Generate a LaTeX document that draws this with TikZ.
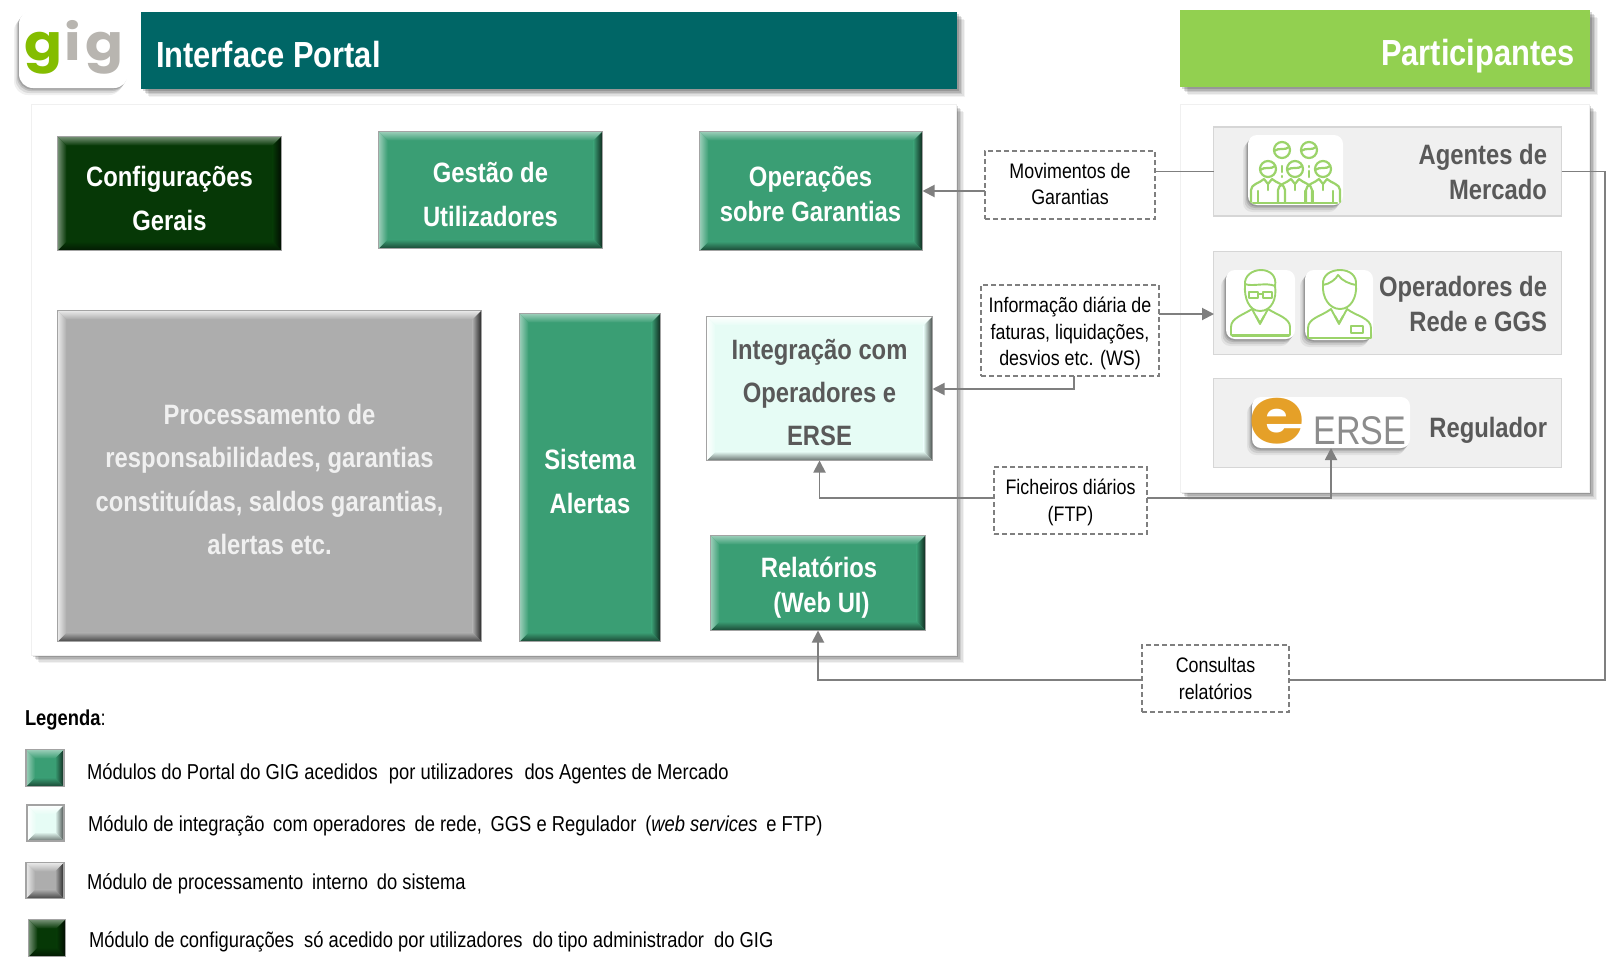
\documentclass[tikz,border=0pt]{standalone}
\usepackage{fontspec}
\setmainfont{Liberation Sans}[FakeStretch=0.85]
\newfontfamily\logofont{Poppins}[FakeStretch=1.12]
\usetikzlibrary{arrows.meta,shadows,calc}
\definecolor{tealhdr}{HTML}{006666}
\definecolor{limehdr}{HTML}{92D050}
\definecolor{modgreen}{HTML}{3A9E74}
\definecolor{moddark}{HTML}{063806}
\definecolor{modpale}{HTML}{E6FCF5}
\definecolor{modgray}{HTML}{ADADAD}
\definecolor{linegray}{HTML}{7F7F7F}
\definecolor{edgegray}{HTML}{A3A3A3}
\definecolor{textgray}{HTML}{595959}
\definecolor{partfill}{HTML}{F0F0F0}
\definecolor{partline}{HTML}{D6D6D6}
\definecolor{icongreen}{HTML}{9BD36A}
\definecolor{ersegold}{HTML}{E5A028}
\definecolor{logogreen}{HTML}{84BD00}
\definecolor{logogray}{HTML}{B8B5B0}
\newcommand{\fz}[2]{\fontsize{#1}{#2}\selectfont}
\newcommand{\bv}{9pt}
\tikzset{
 x=1pt,y=-1pt,
 softshadow/.style={
  copy shadow={draw=none,fill=black,opacity=.05,shadow xshift=8pt,shadow yshift=-8pt},
  copy shadow={draw=none,fill=black,opacity=.07,shadow xshift=6.5pt,shadow yshift=-6.5pt},
  copy shadow={draw=none,fill=black,opacity=.09,shadow xshift=5pt,shadow yshift=-5pt},
  copy shadow={draw=none,fill=black,opacity=.12,shadow xshift=3.5pt,shadow yshift=-3.5pt},
  copy shadow={draw=none,fill=black,opacity=.15,shadow xshift=2pt,shadow yshift=-2pt}},
 tileshadow/.style={
  copy shadow={draw=none,fill=black,opacity=.06,shadow xshift=-5pt,shadow yshift=-7pt},
  copy shadow={draw=none,fill=black,opacity=.09,shadow xshift=-3.5pt,shadow yshift=-5pt},
  copy shadow={draw=none,fill=black,opacity=.12,shadow xshift=-2pt,shadow yshift=-3pt},
  copy shadow={draw=none,fill=black,opacity=.15,shadow xshift=-1pt,shadow yshift=-1.5pt}},
 flatbox/.style={inner sep=0pt,outer sep=0pt,anchor=center},
 bevelbox/.style n args={4}{flatbox,draw=edgegray,line width=1.4pt,fill=#1,
  path picture={
   \coordinate (nw) at (path picture bounding box.north west);
   \coordinate (ne) at (path picture bounding box.north east);
   \coordinate (sw) at (path picture bounding box.south west);
   \coordinate (se) at (path picture bounding box.south east);
   \coordinate (inw) at ($(nw)+(\bv,-\bv)$);
   \coordinate (ine) at ($(ne)+(-\bv,-\bv)$);
   \coordinate (isw) at ($(sw)+(\bv,\bv)$);
   \coordinate (ise) at ($(se)+(-\bv,\bv)$);
   \shade[top color=#2,bottom color=#1] (nw)--(ne)--(ine)--(inw)--cycle;
   \shade[left color=#1,right color=#3] (ne)--(se)--(ise)--(ine)--cycle;
   \shade[top color=#1,bottom color=#4] (sw)--(se)--(ise)--(isw)--cycle;
   \shade[left color=#2,right color=#1] (nw)--(sw)--(isw)--(inw)--cycle;
   \draw[#3,line width=1.4pt] (ne)--(se);
  }},
 modg/.style={bevelbox={modgreen}{modgreen!50!white}{modgreen!25!black}{modgreen!45!black}},
 modd/.style={bevelbox={moddark}{moddark!55!white}{moddark!20!black}{moddark!45!black}},
 modp/.style={bevelbox={modpale}{white}{modpale!30!black}{modpale!45!black}},
 modn/.style={bevelbox={modgray}{modgray!25!white}{modgray!20!black}{modgray!40!black}},
 modtext/.style={flatbox,align=center,text=white,font=\bfseries\fz{28}{44}},
 modtextb/.style={modtext,font=\bfseries\fz{28}{35}},
 dashbox/.style={flatbox,draw=linegray,line width=1.5pt,dash pattern=on 5pt off 3pt,fill=white},
 dashtext/.style={flatbox,align=center,text=black,font=\fz{21}{26.8}},
 conn/.style={draw=linegray,line width=1.9pt},
 connar/.style={conn,-{Triangle[length=12pt,width=12pt]}},
 partbox/.style={flatbox,draw=partline,line width=1.6pt,fill=partfill},
 parttext/.style={flatbox,anchor=east,align=right,text=textgray,font=\bfseries\fz{28}{35}},
 tile/.style={flatbox,fill=white,rounded corners=9pt,tileshadow},
 legtext/.style={flatbox,anchor=west,text=black,font=\fz{21.6}{26}},
 iconline/.style={draw=icongreen,line width=1.9pt,line cap=round,line join=round},
}
\begin{document}
\begin{tikzpicture}
\useasboundingbox (0,0) rectangle (1619,967);
\fill[white] (0,0) rectangle (1619,967);

% headers
\node[flatbox,fill=tealhdr,softshadow,minimum width=816pt,minimum height=77pt] (hdrL) at (549,50.5) {};
\node[flatbox,anchor=west,text=white,font=\bfseries\fz{36.3}{40}] (hdrLt) at (156,55) {Interface Portal};
\node[tile,rounded corners=14pt,minimum width=109pt,minimum height=78pt] (logo) at (73.5,49) {};
\node[flatbox,font=\logofont\bfseries\fz{50}{50}] (logot) at (74,47) {\textcolor{logogreen}{g}\kern2pt\textcolor{logogray}{i}\kern4pt\textcolor{logogray}{g}};
\node[flatbox,fill=limehdr,softshadow,minimum width=410pt,minimum height=77pt] (hdrR) at (1385,48.5) {};
\node[flatbox,anchor=east,text=white,font=\bfseries\fz{36.3}{40}] (hdrRt) at (1575,56) {Participantes};

% panels
\node[flatbox,draw=black!6,line width=1pt,fill=white,softshadow,minimum width=925pt,minimum height=551pt] (panelL) at (493.5,379.5) {};
\node[flatbox,draw=black!6,line width=1pt,fill=white,softshadow,minimum width=409pt,minimum height=388pt] (panelR) at (1384.5,298) {};

% modules
\node[modd,minimum width=224pt,minimum height=114pt] (config) at (169.5,193.5) {};
\node[modtext] (configt) at (169.5,198) {Configurações\\Gerais};
\node[modg,minimum width=224pt,minimum height=117pt] (gestao) at (490.5,190) {};
\node[modtext] (gestaot) at (490.5,194.5) {Gestão de\\Utilizadores};
\node[modg,minimum width=223pt,minimum height=119pt] (oper) at (811,191) {};
\node[modtextb] (opert) at (810.5,194.5) {Operações\\sobre Garantias};
\node[modn,minimum width=424pt,minimum height=331pt] (proc) at (269.5,476) {};
\node[modtext,text=black!6,font=\bfseries\fz{28}{43.5}] (proct) at (269.5,479.5) {Processamento de\\responsabilidades, garantias\\constituídas, saldos garantias,\\alertas etc.};
\node[modg,minimum width=141pt,minimum height=328pt] (alertas) at (590,477.5) {};
\node[modtext] (alertast) at (590,481) {Sistema\\Alertas};
\node[modp,minimum width=226pt,minimum height=144pt] (integ) at (819.5,388.5) {};
\node[modtext,text=textgray,font=\bfseries\fz{28}{43}] (integt) at (819.5,393) {Integração com\\Operadores e\\ERSE};
\node[modg,minimum width=215pt,minimum height=95pt] (relat) at (818,583) {};
\node[modtextb] (relatt) at (819,587.5) {Relatórios\\\hspace*{5pt}(Web UI)};

% participant boxes
\node[partbox,minimum width=348pt,minimum height=89pt] (agentes) at (1387.5,171.5) {};
\node[parttext] (agentest) at (1547,171.5) {Agentes de\\Mercado};
\node[partbox,minimum width=348pt,minimum height=103pt] (opers) at (1387.5,303) {};
\node[parttext] (operst) at (1547,304) {Operadores de\\Rede e GGS};
\node[partbox,minimum width=348pt,minimum height=89pt] (regul) at (1387.5,423) {};
\node[parttext] (regult) at (1547,430.5) {Regulador};

% agent tile
\node[tile,minimum width=95pt,minimum height=70pt] (tileA) at (1295.5,170) {};
\begin{scope}[iconline,line width=2.2pt]
 \foreach \cx/\cy in {1282/150,1309/150,1268/169,1295/169,1323/169}{
  \draw (\cx,\cy) circle (8pt);
  \draw (\cx-8,\cy+1) .. controls (\cx-3,\cy-3) and (\cx+3,\cy+1) .. (\cx+7,\cy-3);
 }
 \foreach \cx in {1268,1295,1323}{
  \draw (\cx-17,202) -- (\cx-17,190) .. controls (\cx-17,184) and (\cx-8,183) .. (\cx-4,179) -- (\cx,184) -- (\cx+4,179) .. controls (\cx+8,183) and (\cx+17,184) .. (\cx+17,190) -- (\cx+17,202);
  \draw (\cx-10,191) -- (\cx-10,202);
  \draw (\cx+10,191) -- (\cx+10,202);
  \draw (\cx,184) -- (\cx,190);
 }
 \draw (1253,203) -- (1337,203);
 \draw (1282,166) -- (1282,172); \draw (1282,176) -- (1282,177);
 \draw (1309,166) -- (1309,167); \draw (1309,171) -- (1309,177);
\end{scope}

% operator tiles
\node[tile,minimum width=69pt,minimum height=69pt] (tileO1) at (1260.5,304.5) {};
\node[tile,minimum width=68pt,minimum height=70pt] (tileO2) at (1339,305) {};
\begin{scope}[iconline]
 % person with glasses
 \draw (1245,285) .. controls (1244,276) and (1252,270) .. (1261,270) .. controls (1270,270) and (1277,276) .. (1275,286) .. controls (1277,298) and (1272,311) .. (1260,311) .. controls (1249,311) and (1244,298) .. (1245,285) -- cycle;
 \draw (1245,284) .. controls (1252,287) and (1266,282) .. (1275,286);
 \draw (1249,292) rectangle (1258,298);
 \draw (1263,292) rectangle (1272,298);
 \draw (1258,294) -- (1263,294);
 \draw (1231,335) -- (1231,327) .. controls (1231,318) and (1243,315) .. (1252,309) -- (1260,324) -- (1268,309) .. controls (1277,315) and (1290,318) .. (1290,327) -- (1290,335) -- cycle;
 \draw (1256,316) -- (1260,323) -- (1264,316);
 \draw[line width=1pt] (1232,336) -- (1289,336);
 % person with badge
 \draw (1323,285) .. controls (1322,275) and (1331,270) .. (1340,270) .. controls (1350,270) and (1357,276) .. (1356,285) .. controls (1357,297) and (1351,309) .. (1340,309) .. controls (1329,309) and (1322,297) .. (1323,285) -- cycle;
 \draw (1323,285) .. controls (1330,284) and (1336,279) .. (1338,275) .. controls (1342,281) and (1350,284) .. (1356,285);
 \draw (1308,338) -- (1308,328) .. controls (1308,318) and (1322,316) .. (1331,309) -- (1339,324) -- (1347,309) .. controls (1356,316) and (1371,318) .. (1371,328) -- (1371,338) -- cycle;
 \draw (1335,316) -- (1339,323) -- (1343,316);
 \draw (1351,326) rectangle (1363,333);
\end{scope}

% ERSE tile
\node[tile,minimum width=158pt,minimum height=51pt] (tileE) at (1331,422.5) {};
\node[flatbox,text=ersegold,font=\logofont\bfseries\fz{80}{80}] (ersee) at (1277,421) {e};
\node[flatbox,text=black!45,font=\fz{40}{40}] (erset) at (1360,431) {ERSE};

% dashed boxes
\node[dashbox,minimum width=170pt,minimum height=68pt] (mov) at (1070,185) {};
\node[dashtext] (movt) at (1070,184) {Movimentos de\\Garantias};
\node[dashbox,minimum width=178pt,minimum height=91pt] (info) at (1070,330.5) {};
\node[dashtext] (infot) at (1070,333.5) {Informação diária de\\faturas, liquidações,\\desvios etc. (WS)};
\node[dashbox,minimum width=153pt,minimum height=67pt] (fich) at (1070.5,500.5) {};
\node[dashtext] (ficht) at (1070.5,502.5) {Ficheiros diários\\(FTP)};
\node[dashbox,minimum width=147pt,minimum height=67pt] (cons) at (1215.5,678.5) {};
\node[dashtext] (const) at (1215.5,678.5) {Consultas\\relatórios};

% free ends of the connectors
\coordinate (opin) at (1214,314);
\coordinate (infodown) at (1074,389);
\coordinate (integup) at (819.5,498);
\coordinate (ersein) at (1331,448);
\coordinate (corner) at (1605,680);
\coordinate (relup) at (818,680);

% connectors
\draw[conn] (agentes.west) -- (agentes.west -| mov.east);
\draw[connar] (oper.east -| mov.west) -- (oper.east);
\draw[connar] (opin -| info.east) -- (opin);
\draw[connar] (infodown |- info.south) -- (infodown) -- (infodown -| integ.east);
\draw[connar] (integup -| fich.west) -- (integup) -- (integ.south);
\draw[connar] (integup -| fich.east) -- (integup -| ersein) -- (ersein);
\draw[conn] (agentes.east) -- (agentes.east -| corner) -- (corner) -- (corner -| cons.east);
\draw[connar] (relup -| cons.west) -- (relup) -- (relat.south);

% legend
\node[flatbox,anchor=west,text=black,font=\fz{21.6}{26}] (legt) at (25,720) {\textbf{Legenda}:};
\node[modg,minimum width=38pt,minimum height=37pt] (lg1) at (45,768) {};
\node[legtext] (lt1) at (87,774) {Módulos do Portal do GIG acedidos\hspace{6pt} por utilizadores\hspace{6pt} dos Agentes de Mercado};
\node[modp,minimum width=37pt,minimum height=36pt] (lg2) at (45.5,823) {};
\node[legtext] (lt2) at (88,826) {Módulo de integração\, com operadores\, de rede,\, GGS e Regulador\, (\textit{web services}\, e FTP)};
\node[modn,minimum width=38pt,minimum height=36pt] (lg3) at (45,880.5) {};
\node[legtext] (lt3) at (87,883.5) {Módulo de processamento\, interno\, do sistema};
\node[modd,minimum width=37pt,minimum height=37pt] (lg4) at (47,938) {};
\node[legtext] (lt4) at (89,942) {Módulo de configurações\hspace{5pt} só acedido por utilizadores\hspace{5pt} do tipo administrador\hspace{5pt} do GIG};
\end{tikzpicture}
\end{document}
